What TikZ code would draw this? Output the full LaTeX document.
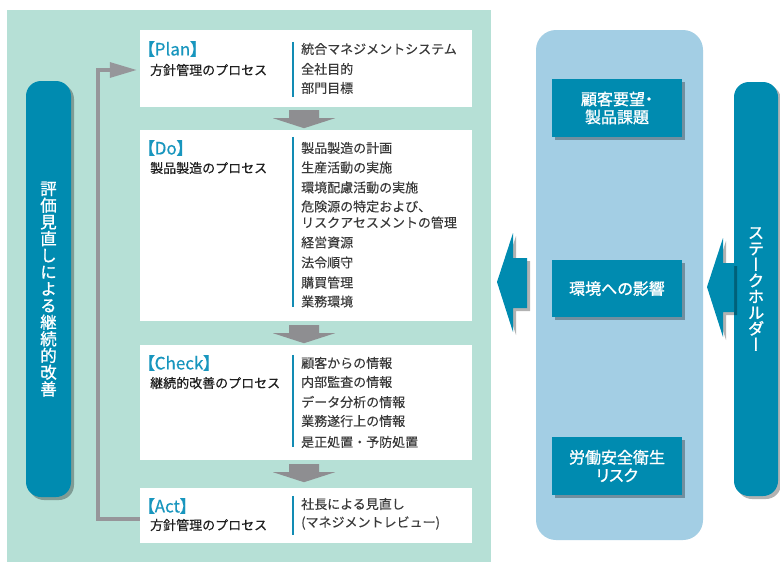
\documentclass[tikz,border=0pt]{standalone}
\usepackage{fontspec}
\setmainfont{Noto Sans CJK JP}
\newfontfamily\hdfont[RawFeature=+palt,FakeBold=0.4]{Noto Sans CJK JP}
\newfontfamily\subfont[FakeBold=0.5]{Noto Sans CJK JP}
\newfontfamily\itfont[FakeBold=0.25]{Noto Sans CJK JP}
\newfontfamily\whfont[RawFeature=+palt,FakeBold=1.1]{Noto Sans CJK JP}
\newfontfamily\vfont[RawFeature=+vert,FakeBold=1.1]{Noto Sans CJK JP}
\usetikzlibrary{shadows,arrows.meta,calc}
\definecolor{bggreen}{RGB}{182,224,214}
\definecolor{teal1}{RGB}{0,139,176}
\definecolor{lblue}{RGB}{163,206,228}
\definecolor{hdteal}{RGB}{24,150,190}
\definecolor{agray}{RGB}{142,142,145}
\definecolor{lgray}{RGB}{150,150,154}
\definecolor{txt}{RGB}{58,58,58}
\definecolor{divteal}{RGB}{18,140,180}
\begin{document}
\begin{tikzpicture}[x=1pt,y=-1pt,
  flow/.style={fill=white,inner sep=0pt,minimum width=332pt},
  hd/.style={font=\hdfont\fontsize{17}{17}\selectfont,text=hdteal,anchor=west,inner sep=0pt},
  sub/.style={font=\subfont\fontsize{13}{13}\selectfont,text=black!88,anchor=west,inner sep=0pt},
  item/.style={font=\itfont\fontsize{13}{13}\selectfont,text=txt,anchor=west,inner sep=0pt},
  divl/.style={draw=divteal,line width=2pt},
  shad/.style={drop shadow={shadow xshift=3pt,shadow yshift=-3pt,opacity=0.3,fill=black}},
  tealbox/.style={fill=teal1,text=white,minimum width=130pt,inner sep=0pt,align=center,
    font=\whfont\fontsize{16}{18}\selectfont,shad},
  vbar/.style={fill=teal1,text=white,rounded corners=15pt,inner sep=0pt,align=center,shad},
  downarr/.pic={\fill[agray] (-15,0) -- (15,0) -- (15,8) -- (31,8) -- (0,18) -- (-31,8) -- (-15,8) -- cycle;}
]
\useasboundingbox (0,0) rectangle (780,562);
\fill[white] (0,0) rectangle (780,562);
% green area
\fill[bggreen] (7,10) rectangle (491,562);

% left vertical bar
\node[vbar,minimum width=45pt,minimum height=416pt,font=\vfont\fontsize{16.5}{16.7}\selectfont] (lbar) at (48.5,289)
  {評\\価\\見\\直\\し\\に\\よ\\る\\継\\続\\的\\改\\善};

% flow boxes
\node[flow,minimum height=77pt] (plan) at (306,68.5) {};
\node[flow,minimum height=191pt] (do) at (306,225.5) {};
\node[flow,minimum height=115pt] (check) at (306,402.5) {};
\node[flow,minimum height=55pt] (act) at (306,515.5) {};

% headers
\node[hd] (planh) at (146,49) {【Plan】};
\node[sub] (plans) at (150,70) {方針管理のプロセス};
\node[hd] (doh) at (146,148) {【Do】};
\node[sub] (dos) at (150,168) {製品製造のプロセス};
\node[hd] (checkh) at (146,363) {【Check】};
\node[sub] (checks) at (150,383) {継続的改善のプロセス};
\node[hd] (acth) at (146,506) {【Act】};
\node[sub] (acts) at (150,525) {方針管理のプロセス};

% dividers
\draw[divl] ($(plan.north west)+(153,12)$) -- ($(plan.south west)+(153,-10)$);
\draw[divl] ($(do.north west)+(153,7)$) -- ($(do.south west)+(153,-14)$);
\draw[divl] ($(check.north west)+(153,10)$) -- ($(check.south west)+(153,-13)$);
\draw[divl] ($(act.north west)+(153,8)$) -- ($(act.south west)+(153,-8)$);

% items
\foreach \t/\yy [count=\i] in {統合マネジメントシステム/49, 全社目的/69, 部門目標/88}
  \node[item,name=pi\i] at (301,\yy) {\t};
\foreach \t/\yy [count=\i] in {製品製造の計画/148, 生産活動の実施/167.5, 環境配慮活動の実施/187.5,
  危険源の特定および、/206.5, リスクアセスメントの管理/222.5, 経営資源/242.5, 法令順守/262.5,
  購買管理/282.5, 業務環境/301.5}
  \node[item,name=di\i] at (301,\yy) {\t};
\foreach \t/\yy [count=\i] in {顧客からの情報/363, 内部監査の情報/382, データ分析の情報/402,
  業務遂行上の情報/421, 是正処置・予防処置/442}
  \node[item,name=ci\i] at (301,\yy) {\t};
\foreach \t/\yy [count=\i] in {社長による見直し/504, (マネジメントレビュー)/523}
  \node[item,name=ai\i] at (301,\yy) {\t};

% down arrows between steps
\pic at ($(plan.south)+(-2,3)$) {downarr};
\pic at ($(do.south)+(-2,4)$) {downarr};
\pic at ($(check.south)+(-2,4)$) {downarr};

% feedback loop
\coordinate (lp) at (98,519);
\draw[lgray,line width=3.2pt,miter limit=10,-{Triangle[length=27pt,width=15pt]}]
  ([yshift=-3.5pt]act.west) -- (lp) |- ([yshift=-1.5pt,xshift=-3pt]plan.west);

% right panel
\node[fill=lblue,rounded corners=20pt,minimum width=167pt,minimum height=510pt,inner sep=0pt] (rpanel) at (619.5,285) {};
\node[tealbox,minimum height=58pt] (b1) at (617,108) {顧客要望・\\製品課題};
\node[tealbox,minimum height=57pt] (b2) at (617,288.5) {環境への影響};
\node[tealbox,minimum height=58pt] (b3) at (617,466) {労働安全衛生\\リスク};

% stakeholder bar
\node[vbar,minimum width=44pt,minimum height=414pt,font=\vfont\fontsize{16.5}{16}\selectfont] (stake) at (756,289)
  {ス\\テ\\ー\\ク\\ホ\\ル\\ダ\\ー};

% block arrows
\fill[teal1,shad] (497,282) -- (513,233) -- (513,258) -- (527,258) -- (527,308) -- (513,308) -- (513,332) -- cycle;
\fill[teal1,shad] (707,287) -- (723,238) -- (723,263) -- (734,263) -- (734,312) -- (723,312) -- (723,337) -- cycle;
\end{tikzpicture}
\end{document}
